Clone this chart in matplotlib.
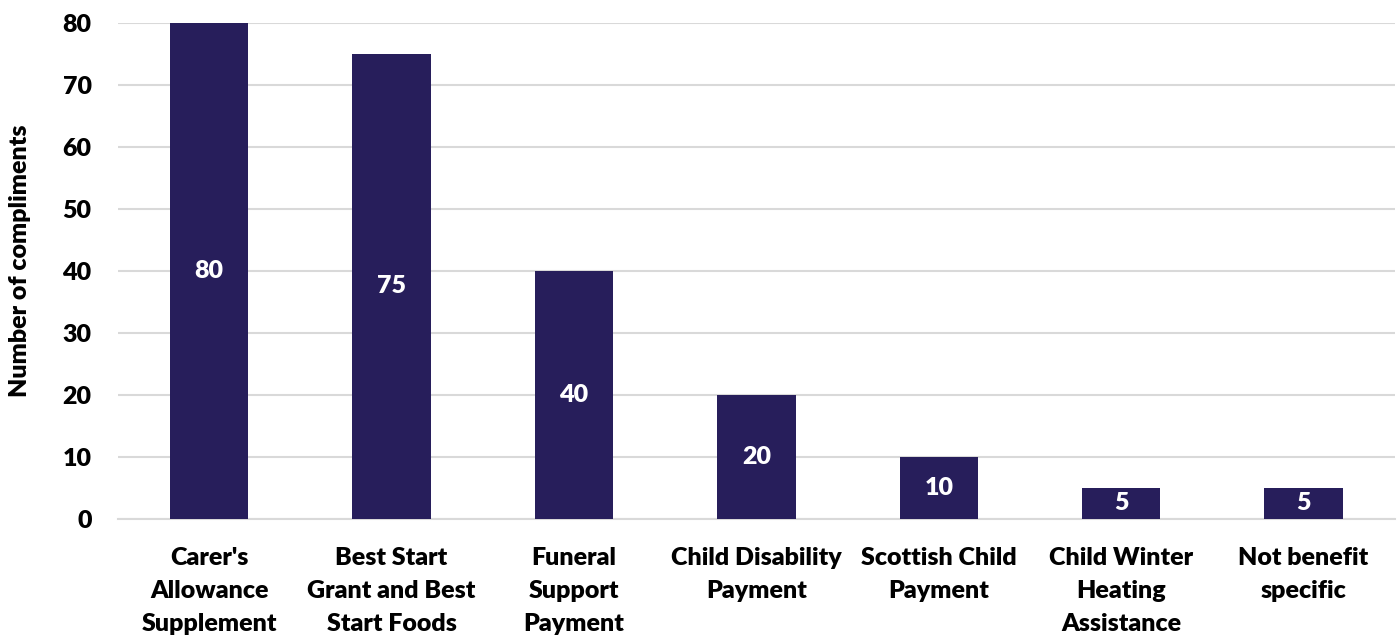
import matplotlib.pyplot as plt

categories = [
    "Carer's\nAllowance\nSupplement",
    "Best Start\nGrant and Best\nStart Foods",
    "Funeral\nSupport\nPayment",
    "Child Disability\nPayment",
    "Scottish Child\nPayment",
    "Child Winter\nHeating\nAssistance",
    "Not benefit\nspecific",
]
compliments = [80, 75, 40, 20, 10, 5, 5]
yticks = [0, 10, 20, 30, 40, 50, 60, 70, 80]

BAR_COLOR = '#271e5b'
plt.rcParams['font.family'] = ['Lato', 'DejaVu Sans']
plt.rcParams['font.weight'] = 'bold'

fig = plt.figure(figsize=(13.99, 6.35), dpi=100)
ax = fig.add_axes([0.0843, 0.1827, 0.9127, 0.7811])

x = range(len(categories))
bars = ax.bar(x, compliments, width=0.43, color=BAR_COLOR, zorder=3)

# value labels in the middle of each bar
for rect, val in zip(bars, compliments):
    ax.text(rect.get_x() + rect.get_width() / 2, val / 2, str(val),
            ha='center', va='center', color='white', fontsize=18,
            fontweight='heavy', zorder=4)

ax.set_xlim(-0.5, len(categories) - 0.5)
ax.set_ylim(0, 80)
ax.set_yticks(yticks)
ax.set_xticks(list(x))
ax.set_xticklabels(categories, fontsize=18, fontweight='heavy',
                   linespacing=1.62, va='top')
ax.tick_params(axis='y', labelsize=18, length=0, pad=19)
ax.tick_params(axis='x', length=0, pad=20)
for lbl in ax.get_yticklabels():
    lbl.set_fontweight('heavy')

ax.yaxis.grid(True, color='#d9d9d9', linewidth=1.5, zorder=0)
for side in ['top', 'right', 'left']:
    ax.spines[side].set_visible(False)
ax.spines['bottom'].set_color('#d9d9d9')
ax.spines['bottom'].set_linewidth(1.5)

ax.set_ylabel('Number of compliments', fontsize=18, fontweight='heavy')
ax.yaxis.set_label_coords(-0.068, 0.52)

fig.savefig('out.png', dpi=100)
